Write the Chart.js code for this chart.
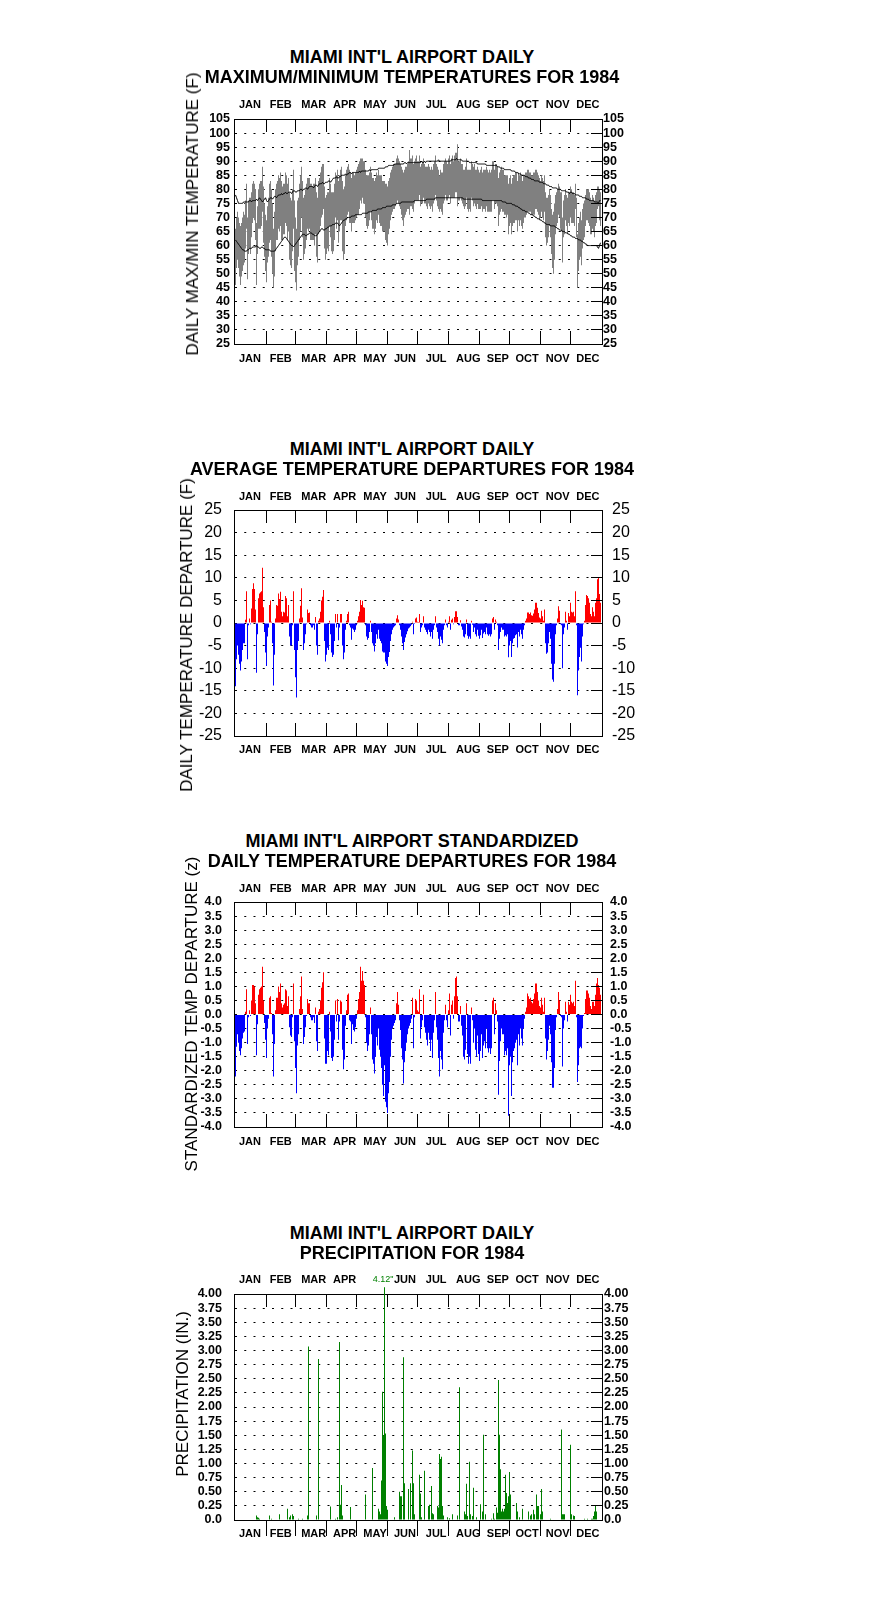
<!DOCTYPE html>
<html><head><meta charset="utf-8">
<script src="https://cdn.jsdelivr.net/npm/chart.js@4.4.1/dist/chart.umd.min.js"></script>
<style>
html,body{margin:0;padding:0;background:#fff;}
body{width:876px;height:1606px;position:relative;overflow:hidden;font-family:'Liberation Sans',Arial,sans-serif;color:#000;}
canvas{position:absolute;left:0;}
.t{position:absolute;left:0;width:824px;text-align:center;font-weight:bold;font-size:18px;line-height:20px;white-space:nowrap;z-index:2;}
.yt{position:absolute;font-size:17px;line-height:20px;white-space:nowrap;transform:translate(-50%,-50%) rotate(-90deg);z-index:2;}
</style></head><body>
<canvas id="c1" width="876" height="325" style="top:69px"></canvas>
<canvas id="c2" width="876" height="326" style="top:460px"></canvas>
<canvas id="c3" width="876" height="325" style="top:852px"></canvas>
<canvas id="c4" width="876" height="326" style="top:1244px"></canvas>

<div class="t" style="top:47px">MIAMI INT'L AIRPORT DAILY</div>
<div class="t" style="top:66.7px">MAXIMUM/MINIMUM TEMPERATURES FOR 1984</div>
<div class="yt" style="left:193px;top:214px">DAILY MAX/MIN TEMPERATURE (F)</div>

<div class="t" style="top:439px">MIAMI INT'L AIRPORT DAILY</div>
<div class="t" style="top:459px">AVERAGE TEMPERATURE DEPARTURES FOR 1984</div>
<div class="yt" style="left:187px;top:635px">DAILY TEMPERATURE DEPARTURE (F)</div>

<div class="t" style="top:830.7px">MIAMI INT'L AIRPORT STANDARDIZED</div>
<div class="t" style="top:850.7px">DAILY TEMPERATURE DEPARTURES FOR 1984</div>
<div class="yt" style="left:192px;top:1014px">STANDARDIZED TEMP DEPARTURE (z)</div>

<div class="t" style="top:1222.7px">MIAMI INT'L AIRPORT DAILY</div>
<div class="t" style="top:1242.7px">PRECIPITATION FOR 1984</div>
<div class="yt" style="left:183px;top:1394px">PRECIPITATION (IN.)</div>

<script>
// ---------- categories / ticks ----------
const monthNames = ['JAN','FEB','MAR','APR','MAY','JUN','JUL','AUG','SEP','OCT','NOV','DEC'];
const monthLengths = [31,29,31,30,31,30,31,31,30,31,30,31];
const monthLabelDay = [14.5,45.3,78.2,109.2,139.5,169.5,200.7,232.8,262.3,291.5,322.2,352.3];
const tempTicks = [25,30,35,40,45,50,55,60,65,70,75,80,85,90,95,100,105];
const depTicks = [-25,-20,-15,-10,-5,0,5,10,15,20,25];
const zTicks = [-4,-3.5,-3,-2.5,-2,-1.5,-1,-0.5,0,0.5,1,1.5,2,2.5,3,3.5,4];
const precipTicks = [0,0.25,0.5,0.75,1,1.25,1.5,1.75,2,2.25,2.5,2.75,3,3.25,3.5,3.75,4];

// ---------- daily values (1984, 366 days) ----------
const tMax = [
66,70,72,70,68,67,68,70,72,71,76,82,70,76,77,77,79,82,83,82,80,68,74,80,82,83,83,88,81,75,71,
69,74,77,82,83,80,75,66,72,80,82,83,85,84,86,83,81,82,82,86,85,82,84,79,77,76,80,87,76,
70,66,76,77,82,85,88,83,77,78,80,82,84,84,84,82,82,81,82,82,84,79,77,83,84,86,88,89,89,81,77,
78,79,79,84,82,79,79,79,82,86,85,87,83,85,87,88,83,80,81,85,87,88,89,87,86,84,86,86,85,86,
87,88,89,90,91,91,91,90,90,87,85,85,85,86,88,86,84,84,83,84,86,85,87,85,85,85,83,83,83,82,82,
81,83,84,86,87,88,89,89,89,91,92,91,90,89,88,87,86,87,88,88,89,90,94,91,91,92,89,90,91,92,
90,90,92,88,89,90,91,89,88,88,88,89,88,87,88,87,89,90,92,89,88,87,85,87,86,86,89,90,91,90,89,
91,92,89,91,92,90,92,93,93,96,90,90,91,89,89,87,87,88,91,87,87,87,87,90,89,88,89,87,87,88,87,
86,87,88,86,87,87,87,88,87,86,87,86,87,90,90,87,89,89,88,84,86,87,88,87,87,85,85,85,85,82,
84,85,82,84,85,85,86,86,83,86,85,86,85,83,85,85,86,86,87,87,86,86,85,85,86,86,87,87,86,85,84,
83,85,84,83,85,79,77,77,78,80,78,73,71,72,75,78,79,80,82,81,79,79,70,76,78,80,78,77,79,79,
81,80,79,79,78,82,77,64,68,70,72,69,73,75,76,78,80,80,80,79,77,76,78,77,76,78,79,81,81,80,79];
const tMin = [
46,52,55,52,49,46,49,51,53,54,59,66,48,57,59,57,63,68,70,69,62,46,57,66,66,66,67,72,61,56,51,
47,54,56,61,62,56,50,45,49,58,62,62,66,65,67,62,62,64,64,68,67,62,65,55,53,52,58,66,51,
47,44,53,56,62,65,70,63,55,57,59,62,66,65,66,62,62,62,62,60,64,56,54,64,65,67,70,71,73,59,55,
57,59,58,67,63,58,57,58,62,70,66,69,61,65,69,69,58,55,57,67,69,71,72,68,68,65,68,68,68,69,
70,71,71,73,76,75,77,75,75,70,67,66,67,69,72,69,66,66,64,66,69,68,71,68,67,67,65,65,65,62,61,
60,64,66,69,71,72,73,73,74,75,76,75,74,73,71,69,67,70,71,72,73,73,71,74,74,73,72,75,76,76,
76,76,78,74,75,75,77,75,75,74,73,75,74,73,74,72,75,76,78,76,74,73,72,73,72,71,75,76,78,76,76,
77,78,75,77,77,77,77,79,79,74,76,76,77,76,75,74,73,74,77,73,72,73,72,77,76,74,75,74,73,75,73,
73,73,74,72,73,73,72,74,72,72,72,72,72,76,76,73,75,75,74,67,71,72,73,72,72,71,71,70,71,64,
67,68,64,67,68,68,69,69,65,69,67,69,67,66,68,70,70,71,72,72,72,72,71,71,71,71,73,73,72,71,69,
70,72,70,69,72,63,60,61,63,67,63,57,52,50,55,64,67,68,71,70,66,65,54,63,64,69,67,64,68,67,
70,68,68,68,67,73,63,45,51,55,56,53,59,62,63,67,69,69,68,67,64,64,66,65,63,67,68,73,74,69,67];
const normMax = [
78,77,76,75,75,75,75,75,75.5,75.5,75.5,75.5,75.5,75.5,76,76,75.5,76,76,76,76,76.5,76,76.5,77,76.5,76,75.5,76,76.5,77,
76,75.5,76,76.5,77,77,76.5,77,77.5,77.5,77,77.5,78,78,78,78.5,78,78.5,78.5,79,78.5,78.5,79,79,79,78.5,79,79.5,79.5,
79,79,79.5,79.5,79.5,80,80,79.5,80,80,80.5,80.5,80,80.5,81,81,81,81,80.5,81,81.5,81.5,81,81.5,82,82,82,82.5,82,82,82.5,
82.5,82.5,83,83,82.5,83,83.5,84,84,84,84.5,84,84,84.5,84.5,85,85,85,85,85.5,85,85.5,85.5,86,86,85.5,86,86,86,86,
86,86,86,86.5,86,86.5,86.5,86.5,86.5,86.5,86.5,86.5,86.5,87,86.5,87,87,87,87,87,87,87,87.5,87.5,87.5,87.5,87.5,87.5,87.5,88,88,
88,88.5,88.5,88.5,88.5,88.5,88.5,89,89,89,89,89,89,89,89,89,89,89.5,89.5,89,89.5,89.5,89.5,89.5,89.5,89.5,89.5,89.5,89.5,89.5,
89.5,89.5,89.5,89.5,90,89.5,89.5,90,89.5,90,90,90,90,90,90,90,90,90,90,90,90,90.5,90,90,90,90,90,90,90,90,90,
90,90,90,90.5,90.5,90.5,90.5,90.5,91,90.5,90.5,90.5,90.5,90.5,90,90,90,90,90,90,90,89.5,89.5,89.5,89.5,89.5,89.5,89.5,89.5,89,89,
89,89,89,89,89,89,89,88.5,88.5,88.5,88.5,88.5,88.5,88.5,88.5,88.5,88.5,88.5,88,88,88,87.5,87.5,87.5,87.5,87,87,87,87,87,
87,87,86.5,86.5,86.5,86.5,86,86,86,85.5,85.5,85.5,85,85,85,85,84.5,84.5,84.5,84,84,84,83.5,83.5,83.5,83,83,83,83,83,82.5,
82.5,82.5,82.5,82,82,82,81.5,81.5,81.5,81,81,81,80.5,80.5,80.5,80.5,80.5,80,80,80,80,79.5,79.5,79.5,79.5,79.5,79,79,79,78.5,
79,79,78.5,78.5,78.5,78,78,78,78,77.5,77.5,77.5,77,77,77,77,76.5,76.5,76.5,76,76,76,76,76,75.5,75.5,75.5,75.5,75,76,76];
const normMin = [
62,61.5,61,60.5,60,59.5,59,58.5,58.5,58,58,58,58.5,58.5,59,59,59,59.5,59.5,59.5,59.5,60,59.5,59.5,59,59,59.5,59.5,59,59,58.5,
58.5,58.5,58.5,58.5,58,58,58,58,58,58.5,59,59.5,60,60.5,61,61.5,62,62.5,63,63,62.5,62,61.5,61,60.5,60,60,59.5,60,
60.5,61,61.5,62,62.5,63,63.5,64,64,64,63.5,63.5,64,64,64.5,64.5,64.5,64,64,63.5,63.5,63.5,64,64.5,65,65.5,66,66,65.5,65.5,66,
66,66.5,66.5,67,67,67,67.5,67.5,67.5,68,68,68,67.5,67,67.5,68,68.5,69,69,69.5,69.5,70,70,70,70,70.5,70.5,70.5,70.5,71,
71,71,71,71,71,71,71.5,71.5,71.5,71.5,71.5,71.5,72,72,72,72,72.5,72.5,72.5,72.5,72.5,73,73,73,73,73,73.5,73.5,73.5,73.5,74,
74,74,74,74,74,74.5,74.5,74.5,74.5,75,75,75,75,75,75.5,75.5,75.5,75.5,75.5,75.5,75.5,75.5,75.5,75.5,75.5,75.5,75.5,76,76,76,
76,76,76,76,76,76,76,76,76,76.5,76.5,76.5,76.5,76.5,76.5,76.5,76.5,76.5,77,77,77,77,77,77,77,77,77,77,77,77,77,
77,77,77,77,77,77,77,77,77,77,77,77,77,77,77,76.5,76.5,76.5,76.5,76.5,76.5,76.5,76.5,76.5,76.5,76.5,76.5,76.5,76.5,76.5,76.5,
76.5,76.5,76.5,76,76,76,76,76,76,76,76,76,76,76,76,76,76,76,76,76,76,76,76,75.5,75.5,75.5,75.5,75,75,75,
75,75,75,74.5,74.5,74.5,74,74,74,73.5,73.5,73,73,72.5,72.5,72.5,72,72,72,71.5,71.5,71,71,71,70.5,70.5,70,70,69.5,69.5,69.5,
69,69,68.5,68.5,68,68,67.5,67.5,67.5,67.5,67,67,67,67,67,66.5,66.5,66,66,65.5,65.5,65.5,65,65,65,64.5,64.5,64.5,64,64,
63.5,63.5,63,63,63,62.5,62.5,62.5,62,62,62,61.5,61.5,61,61,60.5,60.5,60,60,60,60,60,60,60,60,60,60,59.5,59,60,61];
const tempDeparture = [
-14,-8,-5,-7,-9,-10.5,-8.5,-6,-4.5,-4.5,0.7,7,-8,-0.5,1,-0.3,3.2,7.5,8.8,7.5,3,-11,-2.5,5.5,6.5,6.8,7,12.2,3.5,-2,-6.5,
-9.5,-3,-1,4,5,0.3,-4.5,-13.8,-7,1,4,3.8,6.5,5.3,6.9,2.5,1.5,2.5,2.3,6,5.5,1.5,4,-3,-5,-5,-0.5,7,-6,
-12,-16.5,-6,-4,1,3.8,7.7,1.2,-6,-4.5,-2.5,-0.3,3,2.2,2.3,-0.5,-1,-1,-0.5,-1.5,1.3,-5,-7,0.5,1,2.5,5,5.8,7.3,-4,-8.5,
-7,-5.5,-6,0.5,-2.5,-6.5,-7.5,-7,-4,2,-1,2,-3.8,-1,2,2,-5,-8,-6.5,-1.5,0.5,2,2.5,-0.5,-1,-3.7,-1.2,-1.5,-2,-1.5,
-0.5,0.5,1.5,2.5,5.1,4,4.9,3.5,3.4,-0.5,-3,-3.7,-3.3,-2,0.5,-2,-4.5,-5,-6.3,-4.5,-2.5,-3.5,-1.5,-3.5,-4,-4.5,-6.3,-6.5,-6.5,-8.5,-9,
-9.5,-7.5,-6.4,-4,-2.5,-1.5,-1,-0.7,-0.5,1,1.7,0.8,-0.5,-1.5,-3,-4.5,-6,-4.2,-3.2,-2.5,-1.8,-1.2,-1,-0.7,-0.4,0.3,-2.5,-0.2,1,1.2,
0.3,0.2,2,-2,-1,-0.5,1.5,-1,-1.5,-2,-2.5,-1.5,-2,-3,-2,-3.5,-1.5,-0.5,1.5,-1,-2,-3.5,-5,-3,-3.7,-4.5,-1.5,-0.5,0.8,-0.5,-1,
0.3,1.5,-1.5,0.7,1,-0.3,1.3,2.6,2.6,1.3,-0.5,-0.5,0.6,-0.8,-1.5,-3,-3.2,-2.5,0.8,-2.8,-3.5,-3,-3.5,0.5,-0.4,-2,-1,-2.5,-3,-1.5,-2.8,
-3.5,-2.7,-1.5,-3.3,-2.3,-2,-2.5,-1,-2.5,-2.8,-2.5,-3,-2.5,1,1.3,-1.5,0.8,0.3,-0.5,-6,-3.5,-2,-1,-1.5,-1.5,-3,-2.7,-3,-2.5,-7.6,
-5,-4,-7.5,-4.5,-3.5,-3.3,-2.7,-2.5,-5.4,-2,-3,-1.5,-2.5,-3.5,-1.5,-0.5,0.5,1,2.3,2.3,2,2.3,1.7,1.6,2.1,3,4.5,4.5,3.4,2.2,1.2,
1,2.7,1.5,0.5,3,-4.5,-6.8,-6.5,-4.5,-2,-3.5,-9,-12.5,-13,-9,-2.5,-0.5,1,3.7,2.7,-0.3,-0.5,-10,-2.5,-1,2.5,0.5,-1.5,2.2,1.5,
4.5,2.5,2.3,2.5,1.5,7,-0.5,-16,-10.5,-7.5,-5.5,-8.5,-3,-0.3,0.5,4,6.2,6,5.5,4.5,2,1.5,3.5,2.5,1.5,4.5,5.5,9.7,10,6.4,4.5];
const zDeparture = [
-2.2,-1.15,-0.7,-1.0,-1.3,-1.45,-1.2,-0.85,-0.65,-0.6,0.1,0.9,-1.05,-0.1,0.15,-0.05,0.5,1.05,1.05,1.0,0.4,-1.45,-0.35,0.7,0.9,0.95,1.0,1.7,0.5,-0.3,-0.9,
-1.55,-0.5,-0.15,0.6,0.65,0.05,-0.7,-2.2,-1.05,0.15,0.6,0.6,1.0,0.8,1.1,0.4,0.25,0.35,0.4,0.9,0.85,0.3,0.65,-0.45,-0.75,-0.8,-0.1,1.1,-0.95,
-1.9,-2.8,-1.1,-0.7,0.2,0.65,1.35,0.2,-1.05,-0.8,-0.45,-0.05,0.55,0.4,0.4,-0.1,-0.2,-0.2,-0.1,-0.3,0.25,-0.95,-1.3,0.1,0.2,0.5,0.95,1.15,1.5,-0.85,-1.75,
-1.75,-1.3,-1.45,0.1,-0.6,-1.55,-1.65,-1.5,-0.9,0.5,-0.25,0.55,-0.9,-0.25,0.5,0.45,-1.25,-1.95,-1.6,-0.4,0.15,0.7,0.75,-0.2,-0.25,-1.05,-0.35,-0.55,-0.6,-0.45,
-0.15,0.15,0.55,0.8,1.7,1.2,1.55,1.2,1.05,-0.1,-1.0,-1.3,-1.1,-0.7,0.25,-0.7,-1.6,-1.75,-2.1,-1.5,-0.8,-1.1,-0.5,-1.25,-1.5,-1.9,-2.5,-2.9,-1.8,-3.1,-3.3,
-3.5,-2.8,-2.4,-1.5,-0.9,-0.5,-0.4,-0.3,-0.2,0.4,0.8,0.35,-0.2,-0.55,-1.2,-1.6,-2.45,-1.7,-1.3,-1.0,-0.7,-0.5,-0.4,-0.3,-0.15,0.6,-1.2,-0.1,0.55,0.5,
0.15,0.1,0.9,-0.85,-0.45,-0.2,0.7,-0.45,-0.65,-0.9,-1.1,-0.65,-0.9,-1.3,-0.9,-1.55,-0.65,-0.2,0.8,-0.45,-0.9,-1.55,-2.2,-1.3,-1.6,-1.95,-0.65,-0.2,0.35,-0.2,-0.45,
0.15,0.75,-0.75,0.35,0.5,-0.15,0.65,1.3,1.35,0.65,-0.25,-0.25,0.3,-0.4,-0.75,-1.5,-1.6,-1.25,0.4,-1.4,-1.75,-1.5,-1.75,0.25,-0.2,-1.0,-0.5,-1.25,-1.5,-0.75,-1.4,
-1.65,-1.3,-0.7,-1.55,-1.1,-0.95,-1.2,-0.5,-1.2,-1.35,-1.2,-1.4,-1.2,0.5,0.6,-0.7,0.4,0.15,-0.25,-2.85,-1.65,-0.95,-0.5,-0.7,-0.7,-1.45,-1.3,-1.45,-1.2,-3.6,
-1.8,-1.5,-2.9,-1.7,-1.3,-1.2,-1.0,-0.9,-1.8,-0.7,-1.1,-0.5,-0.85,-1.1,-0.5,-0.15,0.1,0.25,0.75,0.65,0.55,0.6,0.45,0.4,0.55,0.75,1.1,1.1,0.8,0.5,0.3,
0.25,0.6,0.35,0.1,0.6,-0.85,-1.6,-1.3,-0.9,-0.4,-0.7,-1.7,-2.6,-2.6,-1.9,-0.55,-0.1,0.2,0.8,0.5,-0.05,-0.1,-1.85,-0.5,-0.2,0.45,0.1,-0.25,0.45,0.35,
0.7,0.45,0.4,0.45,0.3,1.2,-0.1,-2.4,-1.8,-1.2,-1.15,-1.2,-0.5,-0.05,0.05,0.55,0.85,0.85,0.75,0.6,0.3,0.2,0.45,0.45,0.3,0.7,1.1,1.3,1.05,0.95,0.7];
const precip = [
0,0,0,0,0,0,0,0,0,0,0,0,0,0,0,0,0,0,0,0,0,0.08,0.05,0.04,0.02,0,0,0,0,0,0,
0,0,0,0.08,0,0.02,0,0,0,0.01,0,0,0,0.1,0,0,0,0,0,0,0,0.2,0,0.05,0.08,0,0.1,0.07,0,
0,0,0,0.02,0,0,0,0.02,0,0,0,0,0.08,3.07,0,0,0,0,0,0,0,0.08,0,2.85,0,0,0,0,0,0,0,
0,0,0,0,0.24,0,0,0,0,0.02,0,0.05,0,3.15,0.27,0.62,0.08,0,0,0,0,0,0,0,0.23,0,0,0,0,0,
0,0,0,0,0,0,0,0,0,0.45,0,0,0,0,0,0,0.92,0,0,0,0,0,0.2,0.15,0.1,0.7,2.27,1.5,4.12,1.53,0.25,
0.18,0,0,0,0,0,0,0.05,0,0,0,0,0.5,0.42,0.42,0,2.88,0.65,0,0,0,0.55,0,0.65,0,1.23,0.65,0.1,0,0,
0,0,0.8,0.47,0.05,0,0,0.87,0,0,0,0.25,0.27,0,0.6,0.12,0.1,0,0,0,0.25,0.22,1.17,1.08,1.12,0.25,0.08,0,0,0,0.05,
0,0.03,0,0,0.1,0,0,0,0,0.08,0,2.35,0,0,0,0,0.15,0.1,0.64,0.07,0,1.03,0.1,0,0.07,0.57,0,0,0.05,0,0,
0,0.28,0,0.15,1.51,0,0.1,0,0,0,0,0,0.02,0,0.12,0.02,0,0.22,0.13,2.48,1.51,0.9,0.15,0.2,0.15,0.2,0.8,0.48,0.3,0.42,
0.85,0.45,0,0,0,0,0,0.3,0.15,0,0.05,0,0,0.2,0,0,0,0,0,0.15,0,0.08,0.1,0,0.18,0.1,0,0.45,0.25,0.25,0,
0.1,0.55,0.15,0,0,0,0,0,0,0,0.02,0,0,0,0,0,0,0,0,0,0,1.6,0.1,0.1,0.1,0,0,0,0,0,
1.33,0.1,0,0.08,0.07,0,0,0,0,0,0,0,0,0,0.02,0,0,0.02,0,0,0,0.02,0.02,0.07,0.15,0.25,0.15,0,0,0,0];

// ---------- chart construction ----------
const FONT = "'Liberation Sans', Arial, sans-serif";
const monthStarts = [];
monthLengths.reduce((d, l) => { monthStarts.push(d); return d + l; }, 0);

const decor = {
  id: 'decor',
  afterDraw(chart, args, o) {
    const {ctx, chartArea: a} = chart;
    const xs = chart.scales.x, ys = chart.scales.y;
    ctx.save();
    ctx.setLineDash([]);
    ctx.strokeStyle = '#000';
    ctx.lineWidth = 1;
    ctx.beginPath();
    monthStarts.slice(1).forEach(d => {
      const px = Math.round(xs.getPixelForValue(d - 0.5)) + 0.5;
      ctx.moveTo(px, a.top); ctx.lineTo(px, a.top + 13);
      if (o.bottomOut) { ctx.moveTo(px, a.bottom); ctx.lineTo(px, a.bottom + 16); }
      else { ctx.moveTo(px, a.bottom); ctx.lineTo(px, a.bottom - 13); }
    });
    ys.ticks.forEach(t => {
      const py = Math.round(ys.getPixelForValue(t.value) - 0.5) + 0.5;
      ctx.moveTo(a.right - 11, py); ctx.lineTo(a.right, py);
    });
    ctx.stroke();
    if (o.peakLabel) {
      const mx = Math.max(...precip);
      const i = precip.indexOf(mx);
      ctx.fillStyle = '#008000';
      ctx.font = "9px " + FONT;
      ctx.textAlign = 'center';
      ctx.textBaseline = 'middle';
      ctx.fillText(mx.toFixed(2) + '"', xs.getPixelForValue(i) - 1.5, a.top - 14);
    }
    ctx.restore();
  }
};

function xAxis(pos, pad, skip) {
  return {
    type: 'linear', position: pos, min: -1.5, max: 366.5, offset: false,
    grid: {display: false, drawTicks: false, offset: false},
    border: {display: true, color: '#000', width: 1},
    ticks: {
      autoSkip: false, maxRotation: 0, minRotation: 0, padding: pad, color: '#000',
      font: {family: FONT, size: 11, weight: 'bold', lineHeight: 1},
      callback: (v, i) => (skip && skip.includes(i)) ? '' : monthNames[i]
    },
    afterBuildTicks: s => { s.ticks = monthLabelDay.map(v => ({value: v})); },
    afterFit: s => { s.height = 50; }
  };
}
function yAxis(pos, tickVals, fmt, font, pad, withGrid) {
  return {
    type: 'linear', position: pos, min: tickVals[0], max: tickVals[tickVals.length - 1],
    grid: withGrid ? {display: true, drawTicks: false, color: '#000', lineWidth: 1}
                   : {display: false, drawTicks: false},
    border: {display: true, color: '#000', width: 1, dash: withGrid ? [2, 7.25] : [], dashOffset: 0},
    ticks: {autoSkip: false, padding: pad, color: '#000', font: font, callback: v => fmt(v)},
    afterBuildTicks: s => { s.ticks = tickVals.map(v => ({value: v})); },
    afterFit: s => { s.width = (pos === 'left') ? 234 : 274; }
  };
}
function makeChart(id, datasets, cfg) {
  return new Chart(document.getElementById(id), {
    type: 'bar',
    data: {datasets},
    options: {
      responsive: false, animation: false, events: [],
      layout: {padding: 0},
      plugins: {legend: {display: false}, tooltip: {enabled: false}, title: {display: false}, decor: cfg.decor},
      scales: {
        x: xAxis('bottom', cfg.padBottom),
        xTop: xAxis('top', cfg.padTop, cfg.topSkip),
        y: yAxis('left', cfg.ticks, cfg.fmt, cfg.font, cfg.padL, true),
        yR: yAxis('right', cfg.ticks, cfg.fmt, cfg.font, cfg.padR, false)
      }
    },
    plugins: [decor]
  });
}
const barBase = {xAxisID: 'x', yAxisID: 'y', barThickness: 1, inflateAmount: 0, borderWidth: 0, borderSkipped: false};
const boldTick = {family: FONT, size: 12.5, weight: 'bold', lineHeight: 1};

// Panel 1: daily max/min temps
makeChart('c1', [
  {...barBase, type: 'bar', order: 2, backgroundColor: '#808080',
   data: tMax.map((v, i) => ({x: i, y: [tMin[i], v]}))},
  {type: 'line', order: 0, xAxisID: 'x', yAxisID: 'y', borderColor: '#000', borderWidth: 1, pointRadius: 0,
   data: normMax.map((v, i) => ({x: i, y: v}))},
  {type: 'line', order: 1, xAxisID: 'x', yAxisID: 'y', borderColor: '#000', borderWidth: 1, pointRadius: 0,
   data: normMin.map((v, i) => ({x: i, y: v}))}
], {ticks: tempTicks, fmt: v => String(v), font: boldTick, padL: 4, padR: 1, padTop: 9, padBottom: 9, decor: {}});

// Panel 2: average temp departures
makeChart('c2', [
  {...barBase, type: 'bar',
   backgroundColor: tempDeparture.map(v => v >= 0 ? '#ff0000' : '#0000ff'),
   data: tempDeparture.map((v, i) => ({x: i, y: v}))}
], {ticks: depTicks, fmt: v => String(v), font: {family: FONT, size: 16, weight: 'normal', lineHeight: 1},
    padL: 12, padR: 10, padTop: 8, padBottom: 8.5, decor: {}});

// Panel 3: standardized departures
makeChart('c3', [
  {...barBase, type: 'bar',
   backgroundColor: zDeparture.map(v => v >= 0 ? '#ff0000' : '#0000ff'),
   data: zDeparture.map((v, i) => ({x: i, y: v}))}
], {ticks: zTicks, fmt: v => v.toFixed(1), font: boldTick, padL: 12, padR: 8, padTop: 7.5, padBottom: 9.5, decor: {}});

// Panel 4: precipitation
makeChart('c4', [
  {...barBase, type: 'bar', clip: false, backgroundColor: '#008000',
   data: precip.map((v, i) => ({x: i, y: v}))}
], {ticks: precipTicks, fmt: v => v === 0 ? '0.0' : v.toFixed(2), font: boldTick, padL: 12, padR: 2,
    padTop: 8.5, padBottom: 8, topSkip: [4], decor: {bottomOut: true, peakLabel: true}});
</script>
</body></html>
